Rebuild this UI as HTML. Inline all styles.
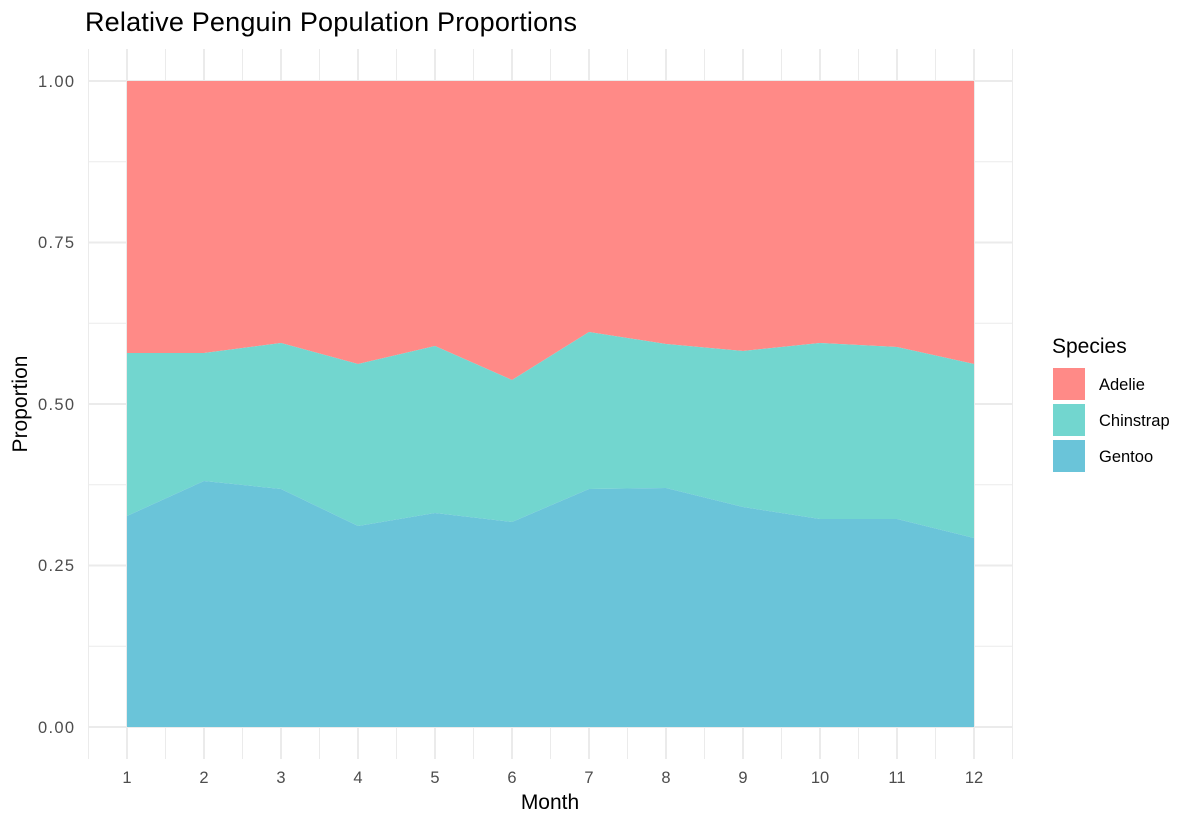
<!DOCTYPE html>
<html><head><style>body{margin:0;background:#fff}</style></head><body>
<svg width="1200" height="825" xmlns="http://www.w3.org/2000/svg" font-family="Liberation Sans, sans-serif">
<rect width="1200" height="825" fill="#fff"/>
<g stroke="#ebebeb" stroke-width="1">
<line x1="89" x2="1013" y1="161.75" y2="161.75"/><line x1="89" x2="1013" y1="323.25" y2="323.25"/><line x1="89" x2="1013" y1="484.75" y2="484.75"/><line x1="89" x2="1013" y1="646.25" y2="646.25"/>
<line y1="49" y2="759" x1="88.5" x2="88.5"/><line y1="49" y2="759" x1="165.5" x2="165.5"/><line y1="49" y2="759" x1="242.5" x2="242.5"/><line y1="49" y2="759" x1="319.5" x2="319.5"/><line y1="49" y2="759" x1="396.5" x2="396.5"/><line y1="49" y2="759" x1="473.5" x2="473.5"/><line y1="49" y2="759" x1="550.5" x2="550.5"/><line y1="49" y2="759" x1="627.5" x2="627.5"/><line y1="49" y2="759" x1="704.5" x2="704.5"/><line y1="49" y2="759" x1="781.5" x2="781.5"/><line y1="49" y2="759" x1="858.5" x2="858.5"/><line y1="49" y2="759" x1="935.5" x2="935.5"/><line y1="49" y2="759" x1="1012.5" x2="1012.5"/>
</g>
<g stroke="#ebebeb" stroke-width="2">
<line x1="89" x2="1013" y1="81" y2="81"/><line x1="89" x2="1013" y1="242.5" y2="242.5"/><line x1="89" x2="1013" y1="404" y2="404"/><line x1="89" x2="1013" y1="565.5" y2="565.5"/><line x1="89" x2="1013" y1="727" y2="727"/>
<line y1="49" y2="759" x1="127" x2="127"/><line y1="49" y2="759" x1="204" x2="204"/><line y1="49" y2="759" x1="281" x2="281"/><line y1="49" y2="759" x1="358" x2="358"/><line y1="49" y2="759" x1="435" x2="435"/><line y1="49" y2="759" x1="512" x2="512"/><line y1="49" y2="759" x1="589" x2="589"/><line y1="49" y2="759" x1="666" x2="666"/><line y1="49" y2="759" x1="743" x2="743"/><line y1="49" y2="759" x1="820" x2="820"/><line y1="49" y2="759" x1="897" x2="897"/><line y1="49" y2="759" x1="974" x2="974"/>
</g>
<polygon fill="#ff8a87" points="127,81 974,81 974,364 897,347 820,343 743,351 666,344 589,332 512,380 435,346 358,364 281,343 204,353 127,353"/>
<polygon fill="#72d6cf" points="127,353 204,353 281,343 358,364 435,346 512,380 589,332 666,344 743,351 820,343 897,347 974,364 974,538 897,519 820,519 743,507 666,488 589,489 512,522 435,513 358,526 281,489 204,481 127,516"/>
<polygon fill="#6ac4d9" points="127,516 204,481 281,489 358,526 435,513 512,522 589,489 666,488 743,507 820,519 897,519 974,538 974,727 127,727"/>
<g fill="#4d4d4d" font-size="16.5" text-anchor="end">
<text x="74" y="87" textLength="36">1.00</text><text x="74" y="248" textLength="36">0.75</text><text x="74" y="410" textLength="36">0.50</text><text x="74" y="571" textLength="36">0.25</text><text x="74" y="733" textLength="36">0.00</text>
</g>
<g fill="#4d4d4d" font-size="16.5" text-anchor="middle">
<text x="127" y="783">1</text><text x="204" y="783">2</text><text x="281" y="783">3</text><text x="358" y="783">4</text><text x="435" y="783">5</text><text x="512" y="783">6</text><text x="589" y="783">7</text><text x="666" y="783">8</text><text x="743" y="783">9</text><text x="820" y="783">10</text><text x="897" y="783">11</text><text x="974" y="783">12</text>
</g>
<text x="550" y="809" font-size="21" text-anchor="middle">Month</text>
<text transform="translate(27,404) rotate(-90)" font-size="21" text-anchor="middle">Proportion</text>
<text x="85" y="31" font-size="27" textLength="492">Relative Penguin Population Proportions</text>
<text x="1052" y="353" font-size="21">Species</text>
<rect x="1053" y="368" width="32" height="32" fill="#ff8a87"/>
<rect x="1053" y="404" width="32" height="32" fill="#72d6cf"/>
<rect x="1053" y="440" width="32" height="32" fill="#6ac4d9"/>
<g font-size="16.5"><text x="1099" y="390">Adelie</text><text x="1099" y="426">Chinstrap</text><text x="1099" y="462">Gentoo</text></g>
</svg>
</body></html>
